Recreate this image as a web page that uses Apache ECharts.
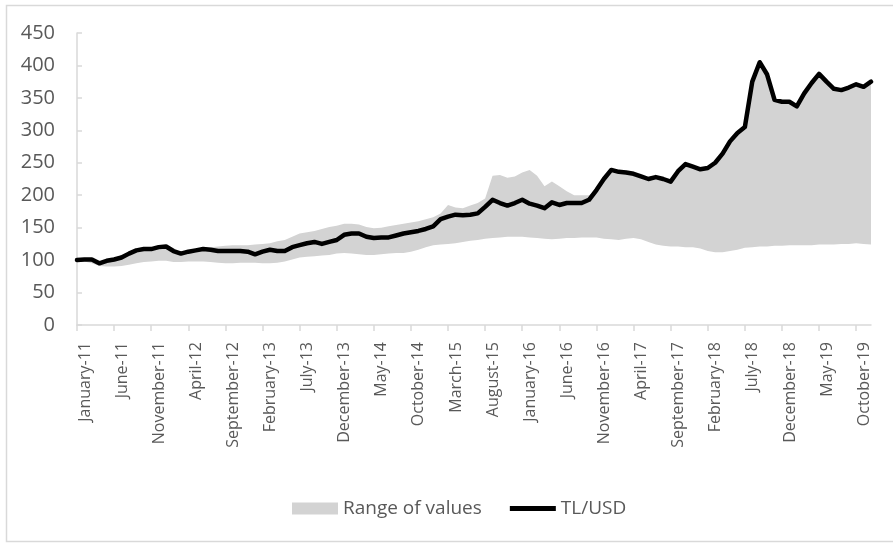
<!DOCTYPE html>
<html>
<head>
<meta charset="utf-8">
<script src="https://cdn.jsdelivr.net/npm/echarts@6/dist/echarts.min.js"></script>
<style>
html,body{margin:0;padding:0;background:#fff;}
#c{width:893px;height:543px;}
</style>
</head>
<body>
<div id="c"></div>
<script>
// Month names and years used to build the category labels (Jan 2011 .. Dec 2019)
const monthNames = ['January','February','March','April','May','June','July','August','September','October','November','December'];
const years = ['11','12','13','14','15','16','17','18','19'];

// TL/USD index (Jan 2011 = 100)
const tlUsd = [
 100,101,101,95,99,101,104,110,115,117,117,120,
 121,114,110,113,115,117,116,114,114,114,114,113,
 109,113,116,114,114,120,123,126,128,125,128,131,
 139,141,141,136,134,135,135,138,141,143,145,148,
 152,163,167,170,169,170,172,182,193,188,184,188,
 193,187,184,180,189,185,188,188,188,193,208,225,
 239,236,235,233,229,225,228,225,221,237,248,244,
 240,242,250,264,283,296,305,375,405,386,347,344,
 344,337,357,373,387,375,364,362,366,371,367,375
];

// Upper bound of the range of values
const rangeHigh = [
 100,101,101,96,100,102,105,111,116,118,118,121,
 122,116,113,115,117,119,120,121,122,123,123,123,
 124,125,126,129,131,136,141,143,145,148,151,153,
 156,156,155,151,149,150,152,154,156,158,160,163,
 166,172,185,181,180,184,188,195,230,231,227,229,
 235,239,230,214,221,214,206,200,200,200,208,225,
 239,236,235,233,229,225,228,225,221,237,248,244,
 240,242,250,264,283,296,305,375,405,386,347,344,
 344,337,357,373,387,375,364,362,366,371,367,375
];

// Lower bound of the range of values
const rangeLow = [
 100,98,95,91,90,90,91,93,95,97,98,99,
 99,97,97,98,98,98,97,96,95,95,96,96,
 96,95,95,96,98,101,104,105,106,107,108,110,
 111,110,109,108,108,109,110,111,111,113,116,120,
 123,124,125,126,128,130,131,133,134,135,136,136,
 136,135,134,133,132,133,134,134,135,135,135,133,
 132,131,133,134,132,128,124,122,121,121,120,120,
 118,114,112,112,114,116,119,120,121,121,122,122,
 123,123,123,123,124,124,124,125,125,126,125,124
];

const yTicks = {min: 0, max: 450, interval: 50};

const categories = [];
for (let i = 0; i < tlUsd.length; i++) {
  categories.push(monthNames[i % 12] + '-' + years[Math.floor(i / 12)]);
}
const rangeSpan = rangeHigh.map((h, i) => h - rangeLow[i]);

const chart = echarts.init(document.getElementById('c'), null, {renderer: 'canvas'});
const txt = '#595959';
const axisGrey = '#d9d9d9';
const font = 'Open Sans';
chart.setOption({
  animation: false,
  backgroundColor: '#ffffff',
  textStyle: {fontFamily: font},
  graphic: [{
    type: 'rect', silent: true,
    shape: {x: 6.5, y: 5.5, width: 900, height: 536},
    style: {fill: 'none', stroke: axisGrey, lineWidth: 1.5}
  }],
  grid: {left: 77, right: 22, top: 33, bottom: 218, containLabel: false},
  legend: {
    left: 287, top: 494,
    itemWidth: 46, itemHeight: 12, itemGap: 28,
    textStyle: {fontSize: 19, color: txt, fontFamily: font},
    data: [
      {name: 'Range of values', icon: 'rect', itemStyle: {color: '#d3d3d3'}},
      {name: 'TL/USD', icon: 'path://M0,0 L46,0 L46,5 L0,5 Z', itemStyle: {color: '#000'}}
    ]
  },
  xAxis: {
    type: 'category',
    data: categories,
    boundaryGap: false,
    axisLine: {lineStyle: {color: axisGrey, width: 1.5}},
    axisTick: {show: true, interval: 4, length: 6, lineStyle: {color: axisGrey, width: 1.5}},
    axisLabel: {
      interval: 4, rotate: 90, fontSize: 16, color: txt, margin: 17,
      fontFamily: font, verticalAlign: 'top'
    },
    splitLine: {show: false}
  },
  yAxis: {
    type: 'value',
    min: yTicks.min, max: yTicks.max, interval: yTicks.interval,
    axisLine: {show: true, lineStyle: {color: axisGrey, width: 1.5}},
    axisTick: {show: true, inside: true, length: 5, lineStyle: {color: axisGrey, width: 1.5}},
    axisLabel: {fontSize: 20, color: txt, margin: 22, fontFamily: font},
    splitLine: {show: false}
  },
  series: [
    {
      name: 'rangeBase', type: 'line', stack: 'range', data: rangeLow,
      symbol: 'none', lineStyle: {width: 0, opacity: 0},
      areaStyle: {opacity: 0}, silent: true, z: 1
    },
    {
      name: 'Range of values', type: 'line', stack: 'range', data: rangeSpan,
      symbol: 'none', lineStyle: {width: 0, opacity: 0},
      itemStyle: {color: '#d3d3d3'},
      areaStyle: {color: '#d3d3d3', opacity: 1}, z: 2
    },
    {
      name: 'TL/USD', type: 'line', data: tlUsd,
      symbol: 'none', itemStyle: {color: '#000'},
      lineStyle: {color: '#000', width: 4.5, join: 'round', cap: 'round'}, z: 3
    }
  ]
});
</script>
</body>
</html>
